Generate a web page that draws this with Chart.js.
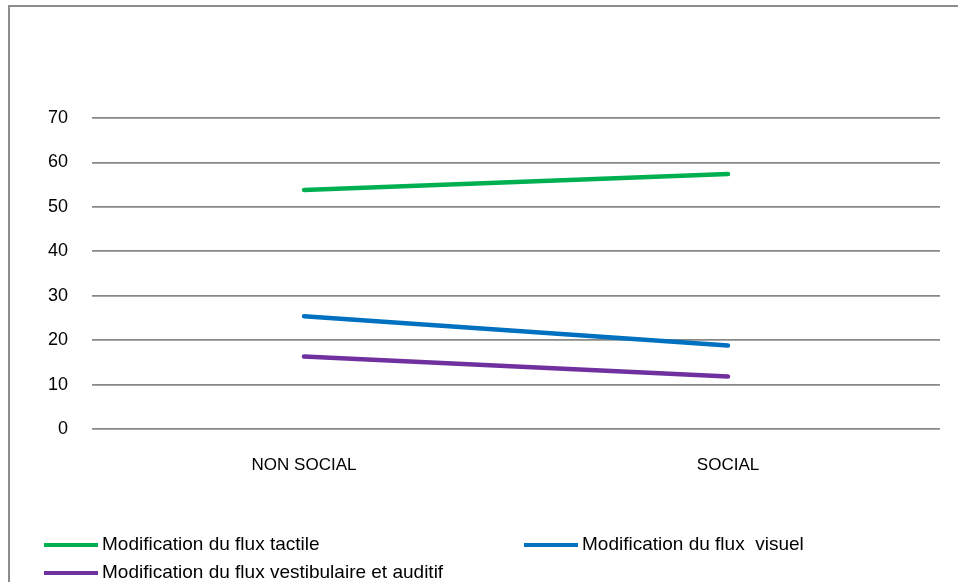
<!DOCTYPE html>
<html>
<head>
<meta charset="utf-8">
<script src="https://cdn.jsdelivr.net/npm/chart.js@4/dist/chart.umd.min.js"></script>
<style>
  html, body { margin: 0; padding: 0; background: #fff; overflow: hidden; }
  #wrap { position: relative; width: 958px; height: 582px; overflow: hidden; }
  #frame { position: absolute; left: 8px; top: 5px; width: 1000px; height: 700px; border: 2px solid #8c8c8c; box-sizing: border-box; }
  canvas { position: absolute; left: 0; top: 0; }
</style>
</head>
<body>
<div id="wrap">
  <div id="frame"></div>
  <canvas id="c" width="958" height="582"></canvas>
</div>
<script>
const categories = ["NON SOCIAL", "SOCIAL"];
const seriesNames = [
  "Modification du flux tactile",
  "Modification du flux  visuel",
  "Modification du flux vestibulaire et auditif"
];
const tactile = [53.8, 57.4];
const visuel = [25.4, 18.8];
const vestibulaire = [16.3, 11.8];
const yTicks = [0, 10, 20, 30, 40, 50, 60, 70];
const colors = ["#00B050", "#0070C0", "#7030A0"];

const FONT = "'Liberation Sans', Arial, sans-serif";

const legendPlugin = {
  id: 'customLegend',
  afterDraw(chart) {
    const ctx = chart.ctx;
    const slots = [
      { x: 44, y: 545 },
      { x: 524, y: 545 },
      { x: 44, y: 573 }
    ];
    ctx.save();
    chart.data.datasets.forEach((ds, i) => {
      const s = slots[i];
      ctx.strokeStyle = ds.borderColor;
      ctx.lineWidth = 4;
      ctx.lineCap = 'butt';
      ctx.beginPath();
      ctx.moveTo(s.x, s.y);
      ctx.lineTo(s.x + 54, s.y);
      ctx.stroke();
      ctx.fillStyle = '#000';
      ctx.font = "19px " + FONT;
      ctx.textBaseline = 'middle';
      ctx.textAlign = 'left';
      ctx.fillText(ds.label, s.x + 58, s.y);
    });
    ctx.restore();
  }
};

new Chart(document.getElementById('c'), {
  type: 'line',
  data: {
    labels: categories,
    datasets: [
      { label: seriesNames[0], data: tactile, borderColor: colors[0], backgroundColor: colors[0] },
      { label: seriesNames[1], data: visuel, borderColor: colors[1], backgroundColor: colors[1] },
      { label: seriesNames[2], data: vestibulaire, borderColor: colors[2], backgroundColor: colors[2] }
    ].map(d => Object.assign(d, { borderWidth: 4.5, pointRadius: 0, tension: 0, fill: false, borderCapStyle: 'round' }))
  },
  options: {
    responsive: false,
    animation: false,
    devicePixelRatio: 1,
    layout: { padding: { top: 118, right: 18, bottom: 93, left: 0 } },
    plugins: { legend: { display: false }, tooltip: { enabled: false } },
    scales: {
      x: {
        offset: true,
        grid: { display: false, drawTicks: false },
        border: { display: false },
        ticks: { color: '#000', font: { family: FONT, size: 17 }, padding: 26, maxRotation: 0 },
        afterFit(scale) { scale.height = 60; }
      },
      y: {
        min: 0,
        max: 70,
        afterBuildTicks(scale) { scale.ticks = yTicks.map(v => ({ value: v })); },
        grid: { color: '#888888', lineWidth: 1.8, drawTicks: false },
        border: { display: false },
        ticks: { color: '#000', font: { family: FONT, size: 18 }, padding: 24 },
        afterFit(scale) { scale.width = 92; }
      }
    }
  },
  plugins: [legendPlugin]
});
</script>
</body>
</html>
